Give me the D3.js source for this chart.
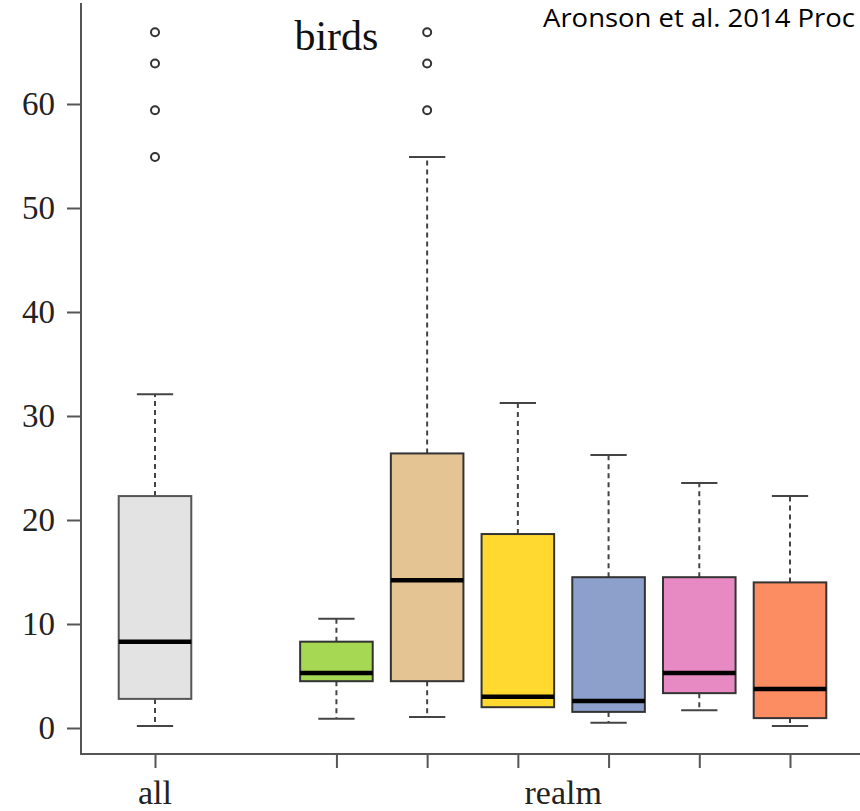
<!DOCTYPE html>
<html>
<head>
<meta charset="utf-8">
<script src="https://cdn.jsdelivr.net/npm/d3@7"></script>
<style>
  html, body { margin: 0; padding: 0; background: #fff; }
  svg { display: block; }
</style>
</head>
<body>
<svg id="chart" width="860" height="811"></svg>
<script>
// ---- data ----
const categories   = ["all", "realm 1", "realm 2", "realm 3", "realm 4", "realm 5", "realm 6"];
const positions    = [1, 3, 4, 5, 6, 7, 8];
const lowerWhisker = [0.2, 0.9, 1.05, 2.0, 0.5, 1.7, 0.2];
const q1           = [2.8, 4.5, 4.5, 2.0, 1.55, 3.35, 0.95];
const median       = [8.3, 5.3, 14.2, 3.0, 2.6, 5.3, 3.75];
const q3           = [22.3, 8.3, 26.4, 18.65, 14.5, 14.5, 14.0];
const upperWhisker = [32.1, 10.5, 54.9, 31.25, 26.25, 23.55, 22.3];
const outliers     = [[54.9, 59.4, 63.9, 66.9], [], [59.4, 63.9, 66.9], [], [], [], []];
const fills        = ["#e3e3e3", "#a6d854", "#e5c494", "#ffd92f", "#8da0cb", "#e78ac3", "#fc8d62"];
const yTicks       = [0, 10, 20, 30, 40, 50, 60];
const xTickValues  = [1, 3, 4, 5, 6, 7, 8];
const xGroupLabels = [{label: "all", at: 1}, {label: "realm", at: 5.5}];
const title        = "birds";
const citation     = "Aronson et al. 2014 Proc";

(function () {
// ---- layout ----
const svg = d3.select("#chart");
const serif = "'Liberation Serif', 'Times New Roman', serif";
const axisColor = "#555";
const frameLeft = 81, frameBottom = 754, frameTop = 3, frameRight = 860;

const x = d3.scaleLinear().domain([1, 8]).range([155, 790]);
const y = d3.scaleLinear().domain([0, 60]).range([728, 104]);
const boxW = (x(2) - x(1)) * 0.8;
const capW = boxW * 0.5;

// L-shaped frame
svg.append("path")
  .attr("d", `M${frameLeft},${frameTop}V${frameBottom}H${frameRight}`)
  .attr("fill", "none").attr("stroke", axisColor).attr("stroke-width", 2);

// y axis
const yAxis = svg.append("g").attr("transform", `translate(${frameLeft},0)`)
  .call(d3.axisLeft(y).tickValues(yTicks).tickSize(14).tickPadding(12));
yAxis.select(".domain").remove();
yAxis.selectAll(".tick line").attr("stroke", axisColor).attr("stroke-width", 2);
yAxis.selectAll(".tick text").attr("fill", "#222")
  .style("font-family", serif).style("font-size", "33px");

// x axis
const xAxis = svg.append("g").attr("transform", `translate(0,${frameBottom})`)
  .call(d3.axisBottom(x).tickValues(xTickValues).tickSize(14).tickFormat(""));
xAxis.select(".domain").remove();
xAxis.selectAll(".tick line").attr("stroke", axisColor).attr("stroke-width", 2);

svg.selectAll("text.xgroup").data(xGroupLabels).enter().append("text")
  .attr("class", "xgroup")
  .attr("x", d => x(d.at)).attr("y", 804)
  .attr("text-anchor", "middle").attr("fill", "#222")
  .style("font-family", serif).style("font-size", "34px")
  .text(d => d.label);

// boxes
const data = categories.map((c, i) => ({
  c, pos: positions[i], lo: lowerWhisker[i], q1: q1[i], med: median[i],
  q3: q3[i], hi: upperWhisker[i], out: outliers[i], fill: fills[i]
}));

const g = svg.selectAll("g.box").data(data).enter().append("g").attr("class", "box");

// whiskers (dashed)
g.filter(d => d.hi > d.q3).append("line")
  .attr("x1", d => x(d.pos)).attr("x2", d => x(d.pos))
  .attr("y1", d => y(d.q3)).attr("y2", d => y(d.hi))
  .attr("stroke", "#444").attr("stroke-width", 2).attr("stroke-dasharray", "5,4");
g.filter(d => d.lo < d.q1).append("line")
  .attr("x1", d => x(d.pos)).attr("x2", d => x(d.pos))
  .attr("y1", d => y(d.q1)).attr("y2", d => y(d.lo))
  .attr("stroke", "#444").attr("stroke-width", 2).attr("stroke-dasharray", "5,4");
// caps
g.append("line")
  .attr("x1", d => x(d.pos) - capW / 2).attr("x2", d => x(d.pos) + capW / 2)
  .attr("y1", d => y(d.hi)).attr("y2", d => y(d.hi))
  .attr("stroke", "#444").attr("stroke-width", 2);
g.filter(d => d.lo < d.q1).append("line")
  .attr("x1", d => x(d.pos) - capW / 2).attr("x2", d => x(d.pos) + capW / 2)
  .attr("y1", d => y(d.lo)).attr("y2", d => y(d.lo))
  .attr("stroke", "#444").attr("stroke-width", 2);
// box
g.append("rect")
  .attr("x", d => x(d.pos) - boxW / 2).attr("width", boxW)
  .attr("y", d => y(d.q3)).attr("height", d => y(d.q1) - y(d.q3))
  .attr("fill", d => d.fill).attr("stroke", d => d.c === "all" ? "#555" : "#333")
  .attr("stroke-width", 2);
// median
g.append("line")
  .attr("x1", d => x(d.pos) - boxW / 2).attr("x2", d => x(d.pos) + boxW / 2)
  .attr("y1", d => y(d.med)).attr("y2", d => y(d.med))
  .attr("stroke", "#000").attr("stroke-width", 4.5);
// outliers
g.selectAll("circle").data(d => d.out.map(v => ({pos: d.pos, v}))).enter().append("circle")
  .attr("cx", d => x(d.pos)).attr("cy", d => y(d.v)).attr("r", 4)
  .attr("fill", "none").attr("stroke", "#333").attr("stroke-width", 2);

// title
svg.append("text")
  .attr("x", x(3)).attr("y", 50).attr("text-anchor", "middle").attr("fill", "#111")
  .style("font-family", serif).style("font-size", "42px")
  .text(title);

// citation: sized like the reference, squeezed to end just inside the right edge
svg.append("text")
  .attr("x", 543).attr("y", 27).attr("fill", "#000")
  .attr("textLength", 312).attr("lengthAdjust", "spacingAndGlyphs")
  .style("font-family", "'Open Sans', 'Noto Sans', sans-serif").style("font-size", "25px")
  .text(citation);
})();
</script>
</body>
</html>
